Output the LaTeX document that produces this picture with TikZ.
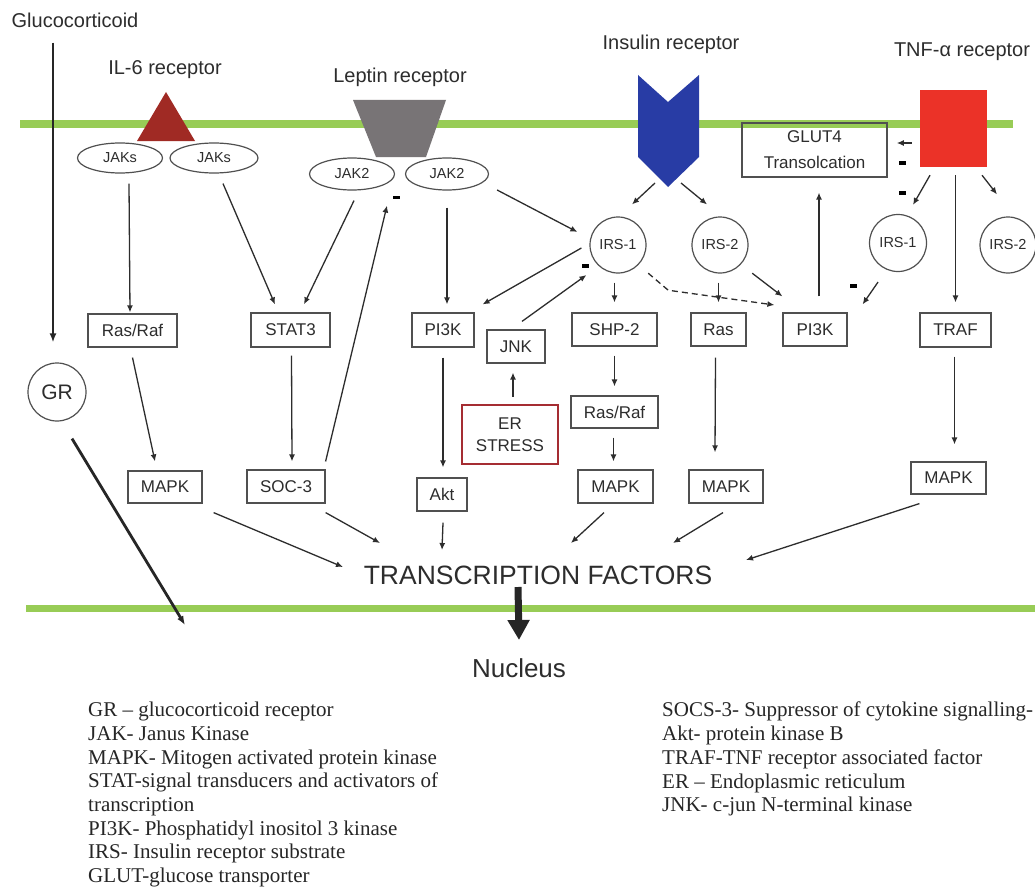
\documentclass[tikz,border=0pt]{standalone}
\usepackage{fontspec}
\setmainfont{Liberation Serif}
\newfontfamily\labelfont{Liberation Sans}
\usetikzlibrary{shapes.geometric,arrows.meta,calc}
\definecolor{membrane}{RGB}{152,204,86}
\definecolor{inkgray}{RGB}{45,45,45}
\definecolor{boxgray}{RGB}{80,80,80}
\definecolor{il6red}{RGB}{160,42,36}
\definecolor{leptingray}{RGB}{120,116,118}
\definecolor{insblue}{RGB}{40,60,165}
\definecolor{tnfred}{RGB}{235,50,40}
\definecolor{errred}{RGB}{165,45,50}

\begin{document}
\begin{tikzpicture}[x=1pt,y=-1pt,
  lbl/.style={font=\labelfont\fontsize{20}{24}\selectfont, text=inkgray, inner sep=0},
  box/.style={draw=boxgray, line width=1.2pt, rectangle, inner sep=0, text=inkgray,
    font=\labelfont\fontsize{17}{22}\selectfont, align=center},
  oval/.style={draw=boxgray, line width=1.2pt, ellipse, inner sep=0, text=inkgray,
    font=\labelfont\fontsize{14.5}{17}\selectfont},
  ring/.style={draw=boxgray, line width=1.2pt, circle, inner sep=0, text=inkgray,
    font=\labelfont\fontsize{14.5}{17}\selectfont},
  arr/.style={draw=inkgray, line width=1.3pt, -{Latex[length=7pt,width=6pt]}},
  bigarr/.style={draw=black!85, line width=2.8pt, -{Latex[length=9pt,width=7pt]}},
  dasharr/.style={arr, dashed, dash pattern=on 6pt off 4pt},
  minus/.style={fill=black, minimum width=7pt, minimum height=3.5pt, inner sep=0},
  membrane line/.style={draw=membrane, line width=7pt},
  legend/.style={font=\fontsize{21}{23.7}\selectfont, text=black!85, align=left,
    inner sep=0, anchor=north west}]
\useasboundingbox (0,0) rectangle (1035,888);
\fill[white] (0,0) rectangle (1035,888);
%
\draw[membrane line] (20,124) -- (1013,124);
\draw[membrane line] (26,608) -- (1035,608);
%
\node[lbl] (gluc) at (75,20) {Glucocorticoid};
\node[lbl] (il6) at (165,70) {IL-6 receptor};
\node[lbl] (lep) at (400,77) {Leptin receptor};
\node[lbl] (ins) at (671,44) {Insulin receptor};
\node[lbl] (tnf) at (962,52) {TNF-α receptor};
%
\fill[il6red] (166,92) -- (195,141) -- (137,141) -- cycle;
\fill[leptingray] (353,100) -- (446,100) -- (426,157) -- (376,157) -- cycle;
\fill[insblue] (638,75) -- (668,102) -- (699,75) -- (699,157) -- (668,187) -- (638,157) -- cycle;
\coordinate (insr) at (668,187);
\node[fill=tnfred, minimum width=67pt, minimum height=77pt, inner sep=0] (tnfr) at (953.5,128.5) {};
%
\node[oval, minimum width=85pt, minimum height=30pt] (jaka) at (120,158) {JAKs};
\node[oval, minimum width=88pt, minimum height=30pt] (jakb) at (214,158) {JAKs};
\node[oval, minimum width=85pt, minimum height=32pt] (jak2a) at (352,174) {JAK2};
\node[oval, minimum width=83pt, minimum height=32pt] (jak2b) at (447,174) {JAK2};
\node[ring, minimum size=58pt, font=\labelfont\fontsize{21}{24}\selectfont] (gr) at (57,392) {GR};
\node[ring, minimum size=56pt] (irsa) at (618,245) {IRS-1};
\node[ring, minimum size=56pt] (irsb) at (720,245) {IRS-2};
\node[ring, minimum size=57pt] (irsc) at (898,243) {IRS-1};
\node[ring, minimum size=56pt] (irsd) at (1008,245) {IRS-2};
%
\node[box, minimum width=145pt, minimum height=54pt, font=\labelfont\fontsize{17}{26}\selectfont] (glut) at (814.5,150) {GLUT4\\Transolcation};
\node[box, minimum width=89pt, minimum height=33pt] (rasrafa) at (132.5,330.5) {Ras/Raf};
\node[box, minimum width=79pt, minimum height=34pt] (stat) at (290.5,330) {STAT3};
\node[box, minimum width=62pt, minimum height=34pt] (pika) at (443,330) {PI3K};
\node[box, minimum width=58pt, minimum height=33pt] (jnk) at (516,346.5) {JNK};
\node[box, minimum width=85pt, minimum height=33pt] (shp) at (614.5,329.5) {SHP-2};
\node[box, minimum width=55pt, minimum height=33pt] (ras) at (718.5,329.5) {Ras};
\node[box, minimum width=64pt, minimum height=33pt] (pikb) at (815,329.5) {PI3K};
\node[box, minimum width=71pt, minimum height=34pt] (traf) at (955.5,330) {TRAF};
\node[box, minimum width=74pt, minimum height=32pt] (mapka) at (165,487) {MAPK};
\node[box, minimum width=78pt, minimum height=33pt] (soc) at (286,486.5) {SOC-3};
\node[box, minimum width=50pt, minimum height=33pt] (akt) at (442,494.5) {Akt};
\node[box, draw=errred, line width=2.8pt, minimum width=96pt, minimum height=59pt] (er) at (510,434.5) {ER\\STRESS};
\node[box, minimum width=87pt, minimum height=32pt] (rasrafb) at (614.5,412) {Ras/Raf};
\node[box, minimum width=75pt, minimum height=33pt] (mapkb) at (615.5,486.5) {MAPK};
\node[box, minimum width=74pt, minimum height=33pt] (mapkc) at (726,486.5) {MAPK};
\node[box, minimum width=75pt, minimum height=32pt] (mapkd) at (948.5,478) {MAPK};
%
\node[lbl, font=\labelfont\fontsize{26.5}{30}\selectfont] (tf) at (538,575) {TRANSCRIPTION FACTORS};
\node[lbl, font=\labelfont\fontsize{26}{30}\selectfont] (nuc) at (519,668) {Nucleus};
%
% glucocorticoid
\draw[bigarr] ($(gluc.south)+(-22,15)$) -- ($(gr.north)+(-4,-20)$);
\coordinate (grend) at (185,625);
\draw[bigarr] ($(gr.south)+(15,17)$) -- (grend);
% IL-6 and leptin
\draw[arr] ($(jaka.south)+(9,10)$) -- ($(rasrafa.north)+(-2.5,-1)$);
\draw[arr] ($(jakb.south)+(9,10)$) -- ($(stat.north)+(-15.5,-8)$);
\draw[arr] ($(jak2a.south)+(2,10)$) -- ($(stat.north)+(13.5,-8)$);
\draw[arr] ($(soc.north east)+(0,-8)$) -- ($(jak2a.south)+(35,15)$);
\node[minus] (mjak) at ($(jak2a.south)+(44,7)$) {};
\draw[arr] ($(jak2b.south)+(0,17)$) -- ($(pika.north)+(4,-8)$);
\draw[arr] ($(jak2b.east)+(8,16)$) -- ($(irsa.west)+(-12,-13)$);
% insulin
\draw[arr] ($(insr)+(-13,-4)$) -- ($(irsa.north)+(14,-12)$);
\draw[arr] ($(insr)+(13,-4)$) -- ($(irsb.north)+(-13,-12)$);
\draw[arr] ($(irsa.west)+(-8,3)$) -- ($(pika.north east)+(8,-8)$);
\draw[arr] ($(jnk.north)+(6,-8)$) -- ($(irsa.west)+(-3,30)$);
\node[minus] (mirs) at ($(irsa.west)+(-4,21)$) {};
\draw[arr] ($(irsa.south -| shp.north)+(0,9)$) -- ($(shp.north)+(0,-10)$);
\draw[arr] ($(irsb.south -| ras.north)+(0,9)$) -- ($(ras.north)+(0,-10)$);
\draw[dasharr] ($(irsa.south east)+(10,8)$) -- ($(irsa.south east)+(30,25)$) -- ($(pikb.west)+(-8,-24.5)$);
\draw[arr] ($(irsb.south east)+(12,8)$) -- ($(pikb.north west)+(0,-16)$);
\draw[arr] ($(pikb.north)+(4,-16)$) -- ($(glut.south)+(4.5,15)$);
% TNF-alpha
\draw[arr] ($(tnfr.west)+(-8,14.5)$) -- ($(tnfr.west)+(-23,14.5)$);
\node[minus] (mglut) at ($(tnfr.west)+(-17,34.5)$) {};
\node[minus] (mirsc) at ($(tnfr.west)+(-17,64.5)$) {};
\draw[arr] ($(tnfr.south)+(-23.5,8)$) -- ($(irsc.north)+(15,-9)$);
\draw[arr] ($(tnfr.south)+(28.5,8)$) -- ($(irsd.north)+(-11,-22)$);
\draw[arr] ($(tnfr.south -| traf.north)+(0,8)$) -- ($(traf.north)+(0,-10)$);
\draw[arr] ($(irsc.south)+(-20,10)$) -- ($(pikb.north east)+(15,-8)$);
\node[minus] (mpik) at ($(irsc.south)+(-45,14)$) {};
% downstream
\draw[arr] ($(rasrafa.south)+(0,10)$) -- ($(mapka.north)+(-10,-9)$);
\draw[arr] ($(stat.south)+(1,8)$) -- ($(soc.north)+(6,-8)$);
\draw[arr] ($(pika.south)+(0,10)$) -- ($(akt.north)+(1,-10)$);
\draw[arr] ($(er.north)+(3,-7)$) -- ($(jnk.south)+(-3,9)$);
\draw[arr] ($(shp.south)+(0,9)$) -- ($(rasrafb.north)+(0,-9)$);
\draw[arr] ($(rasrafb.south)+(-1,9)$) -- ($(mapkb.north)+(-2,-8)$);
\draw[arr] ($(ras.south)+(-3,11)$) -- ($(mapkc.north)+(-11,-17)$);
\draw[arr] ($(traf.south)+(-1,9)$) -- ($(mapkd.north)+(6,-17)$);
% transcription factors
\draw[arr] ($(mapka.south east)+(11,9)$) -- ($(tf.center)+(-195,-8)$);
\draw[arr] ($(soc.south east)+(0,9)$) -- ($(tf.center)+(-158,-32)$);
\draw[arr] ($(akt.south)+(1,11)$) -- ($(tf.center)+(-96,-25)$);
\draw[arr] ($(mapkb.south)+(-11.5,9)$) -- ($(tf.center)+(33,-32)$);
\draw[arr] ($(mapkc.south)+(-3,9)$) -- ($(tf.center)+(135,-32)$);
\draw[arr] ($(mapkd.south west)+(9,9)$) -- ($(tf.center)+(208,-15)$);
\draw[draw=black!85, line width=7pt, -{Triangle[length=20pt,width=21pt]}] ($(tf.center)+(-20,12)$) -- ($(nuc.center)+(0,-28)$);
%
\node[legend] (keyl) at (88,702) {GR – glucocorticoid receptor\\
JAK- Janus Kinase\\
MAPK- Mitogen activated protein kinase\\
STAT-signal transducers and activators of\\
transcription\\
PI3K- Phosphatidyl inositol 3 kinase\\
IRS- Insulin receptor substrate\\
GLUT-glucose transporter};
\node[legend] (keyr) at (662,702) {SOCS-3- Suppressor of cytokine signalling-\\
Akt- protein kinase B\\
TRAF-TNF receptor associated factor\\
ER – Endoplasmic reticulum\\
JNK- c-jun N-terminal kinase};
\end{tikzpicture}
\end{document}
